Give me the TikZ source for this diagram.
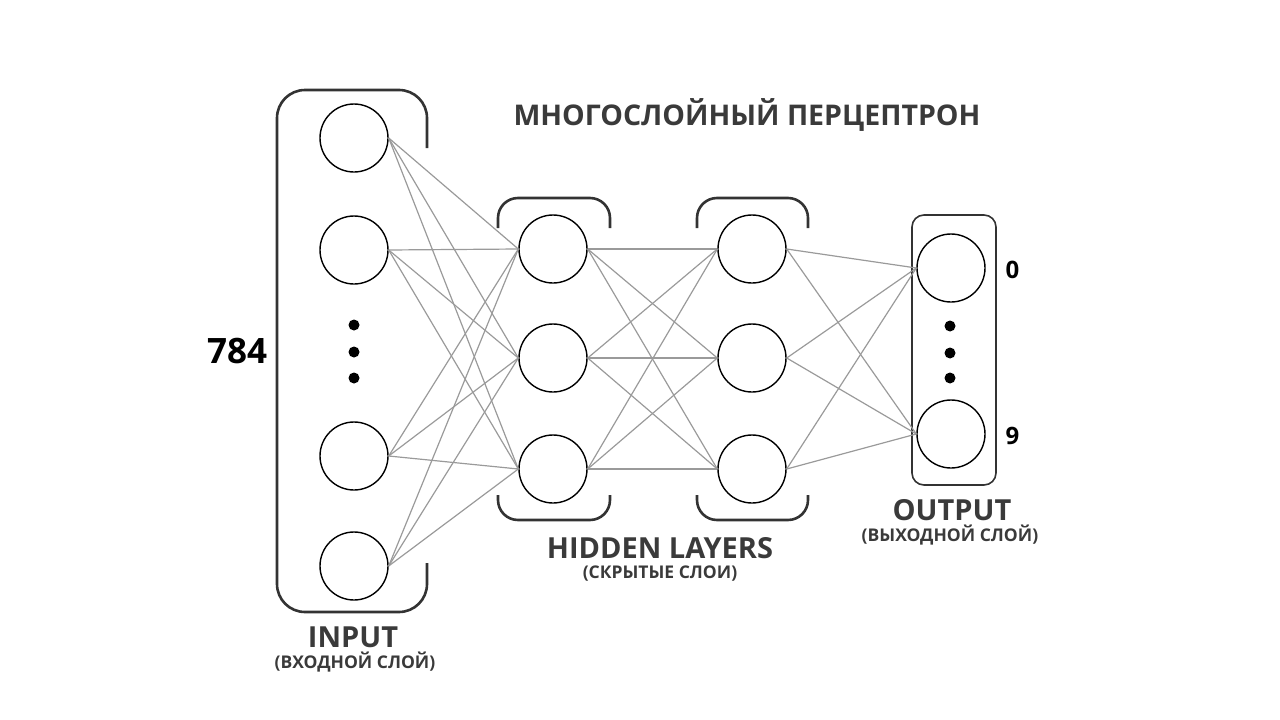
\documentclass[tikz,border=0pt]{standalone}
\usepackage{fontspec}
\setmainfont{Open Sans}
\usepackage{tikz}
\usetikzlibrary{positioning}
\definecolor{labelgray}{HTML}{3A3A3A}
\definecolor{bracketgray}{HTML}{333333}
\definecolor{linkgray}{HTML}{9A9A9A}

\tikzset{
  neuron/.style={circle,draw=black,line width=1.4pt,minimum size=68pt,inner sep=0pt},
  link/.style={linkgray,line width=1.2pt},
  bracket/.style={bracketgray,line width=2.6pt,rounded corners=20pt},
  heading/.style={labelgray,font=\fontsize{29}{33}\selectfont\bfseries},
  subheading/.style={labelgray,font=\fontsize{17.5}{20}\selectfont\bfseries},
  digit/.style={font=\fontsize{24}{28}\selectfont\bfseries,anchor=west},
  dotmark/.style={fill=black}
}

\begin{document}
\begin{tikzpicture}[x=1pt,y=-1pt]
  \useasboundingbox (0,0) rectangle (1280,720);

  % Title
  \node[labelgray,font=\fontsize{28.5}{33}\selectfont\bfseries] (title) at (747,115)
    {МНОГОСЛОЙНЫЙ ПЕРЦЕПТРОН};

  % Input layer
  \node[neuron] (i1) at (354,138) {};
  \node[neuron] (i2) at (354,250) {};
  \node[neuron] (i3) at (354,456) {};
  \node[neuron] (i4) at (354,566) {};
  \foreach \y in {325,352,378}{
    \fill[dotmark] (354,\y) circle (5.5);
  }
  \draw[bracket,rounded corners=28pt] (427,148)--(427,90)--(277,90)--(277,612)--(427,612)--(427,563);
  \node[font=\fontsize{35}{40}\selectfont\bfseries] (n784) at (237,351) {784};
  \node[heading] (inlbl) at (353,637) {INPUT};
  \node[subheading] (insub) at (355,662) {(ВХОДНОЙ СЛОЙ)};

  % Hidden layers
  \foreach \k/\x in {1/553,2/752}{
    \node[neuron] (ha\k) at (\x,249) {};
    \node[neuron] (hb\k) at (\x,358) {};
    \node[neuron] (hc\k) at (\x,469) {};
  }
  \draw[bracket] (498,228)--(498,198)--(610,198)--(610,228);
  \draw[bracket] (498,495)--(498,520)--(610,520)--(610,495);
  \draw[bracket] (697,228)--(697,198)--(808,198)--(808,228);
  \draw[bracket] (697,495)--(697,520)--(808,520)--(808,495);
  \node[heading] (hidlbl) at (660,548) {HIDDEN LAYERS};
  \node[subheading] (hidsub) at (660,574) {(СКРЫТЫЕ СЛОИ)};

  % Output layer
  \node[neuron] (o1) at (951,268) {};
  \node[neuron] (o2) at (951,434) {};
  \foreach \y in {326,353,378}{
    \fill[dotmark] (950,\y) circle (5.5);
  }
  \draw[bracketgray,line width=1.6pt,rounded corners=12pt] (912,215) rectangle (996,485);
  \node[digit] (d0) at (1002,270) {0};
  \node[digit] (d9) at (1002,436) {9};
  \node[heading] (outlbl) at (952,510) {OUTPUT};
  \node[subheading] (outsub) at (950,535) {(ВЫХОДНОЙ СЛОЙ)};

  % Connections
  \foreach \i in {i1,i2,i3,i4}{
    \foreach \h in {ha1,hb1,hc1}{
      \draw[link] (\i.east) -- (\h.west);
    }
  }
  \foreach \a in {ha1,hb1,hc1}{
    \foreach \b in {ha2,hb2,hc2}{
      \draw[link] (\a.east) -- (\b.west);
    }
  }
  \foreach \h in {ha2,hb2,hc2}{
    \foreach \o in {o1,o2}{
      \draw[link] (\h.east) -- (\o.west);
    }
  }
\end{tikzpicture}
\end{document}
